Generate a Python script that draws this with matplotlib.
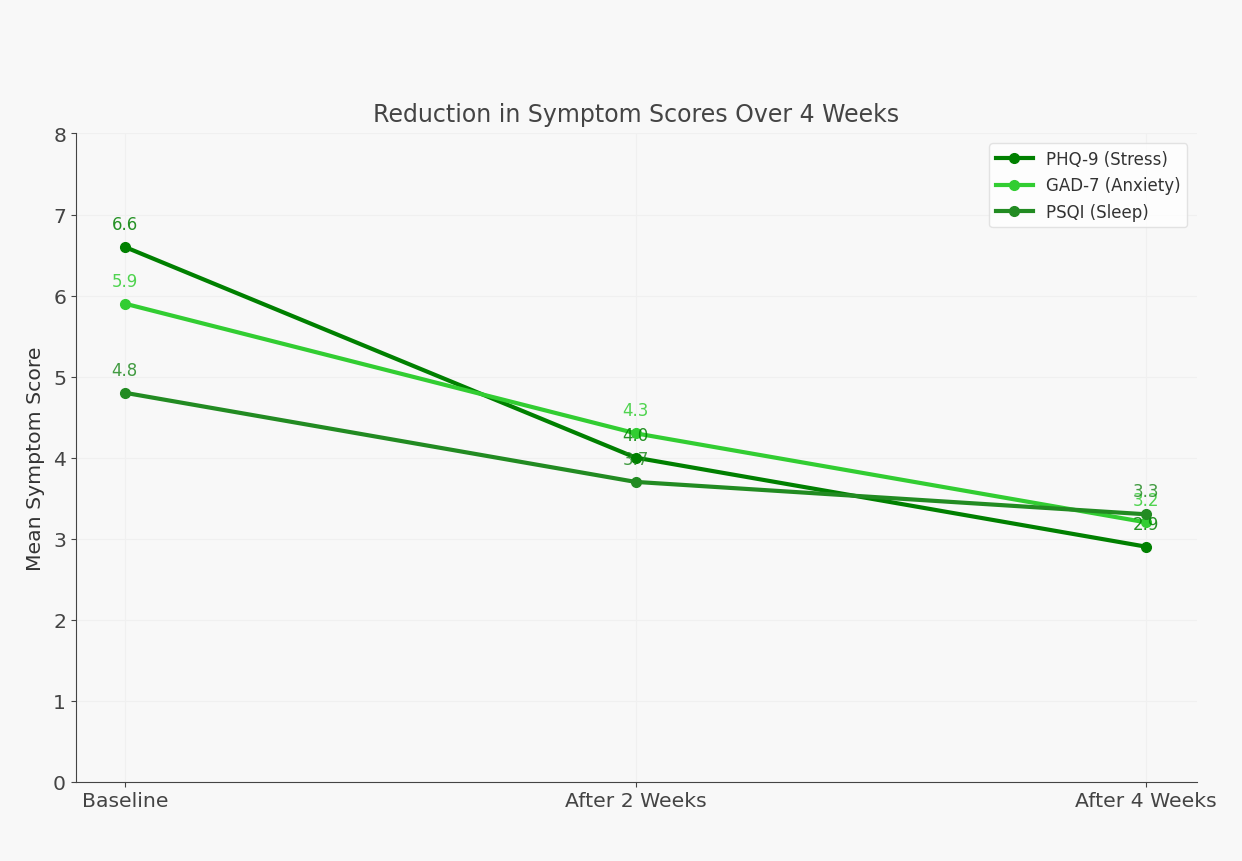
import matplotlib.pyplot as plt

timepoints = ["Baseline", "After 2 Weeks", "After 4 Weeks"]
phq9 = [6.6, 4.0, 2.9]
gad7 = [5.9, 4.3, 3.2]
psqi = [4.8, 3.7, 3.3]

series = [
    ("PHQ-9 (Stress)", phq9, "#008000"),
    ("GAD-7 (Anxiety)", gad7, "#32CD32"),
    ("PSQI (Sleep)", psqi, "#228B22"),
]

fig = plt.figure(figsize=(12.42, 8.62), dpi=100, facecolor="#f8f8f8")
ax = fig.add_axes([0.061, 0.092, 0.903, 0.752])
ax.set_facecolor("#f8f8f8")

x = list(range(len(timepoints)))
for name, vals, col in series:
    ax.plot(x, vals, color=col, lw=3, marker="o", ms=7, label=name)
    for xi, v in zip(x, vals):
        ax.annotate(f"{v:.1f}", (xi, v), xytext=(0, 10), textcoords="offset points",
                    ha="center", va="bottom", color=col, fontsize=12, alpha=0.85)

ax.set_xticks(x)
ax.set_xticklabels(timepoints, fontsize=14.7, color="#333333")
ax.set_xlim(-0.096, 2.1)
ax.set_ylim(0, 8)
ax.tick_params(axis="y", labelsize=14.7, labelcolor="#333333")
ax.tick_params(colors="#444444")
ax.set_ylabel("Mean Symptom Score", fontsize=14.7, color="#333333", labelpad=6)
ax.set_title("Reduction in Symptom Scores Over 4 Weeks", fontsize=17, color="#444444", pad=9)
ax.grid(True, color="#f0f0f0", lw=0.8)
ax.spines["top"].set_visible(False)
ax.spines["right"].set_visible(False)
ax.spines["left"].set_color("#444444")
ax.spines["bottom"].set_color("#444444")
ax.legend(loc="upper right", fontsize=12, facecolor="white", edgecolor="#dddddd",
          labelcolor="#333333", handlelength=2.2, borderaxespad=0.6)

fig.savefig("out.png", dpi=100, facecolor=fig.get_facecolor())
